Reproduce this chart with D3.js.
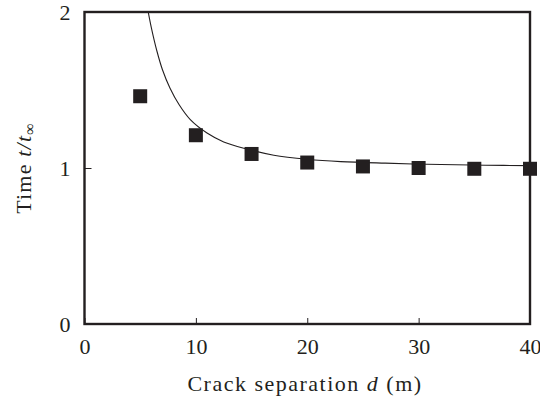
<!DOCTYPE html>
<html>
<head>
<meta charset="utf-8">
<script src="https://cdn.jsdelivr.net/npm/d3@7"></script>
<style>
  body { margin: 0; background: #fff; }
  text { font-family: "Liberation Serif", "DejaVu Serif", serif; fill: #231f20; }
</style>
</head>
<body>
<svg id="chart" width="540" height="403"></svg>
<script>
// measured points (crack separation d, normalised time)
var sepD = [5, 10, 15, 20, 25, 30, 35, 40];
var timeRatio = [1.46, 1.21, 1.09, 1.035, 1.01, 1.0, 0.995, 0.995];

// model curve
var curveD = [5.67, 6.0, 6.5, 7.0, 7.67, 8.5, 9.5, 11, 12.5, 14.5, 17, 20, 23, 27, 32, 36, 40];
var curveT = [2.02, 1.90, 1.75, 1.63, 1.513, 1.405, 1.31, 1.224, 1.167, 1.123, 1.082, 1.056, 1.041, 1.031, 1.022, 1.018, 1.015];

var xTicks = [0, 10, 20, 30, 40];
var yTicks = [0, 1, 2];

var svg = d3.select("#chart");
var margin = {top: 12, right: 10, bottom: 79, left: 84.5},
    width = 540 - margin.left - margin.right,
    height = 403 - margin.top - margin.bottom;

var ink = "#231f20";

var x = d3.scaleLinear().domain([0, 40]).range([margin.left, margin.left + width]);
var y = d3.scaleLinear().domain([0, 2]).range([margin.top + height, margin.top]);

// clip for the curve
svg.append("clipPath").attr("id", "clip")
  .append("rect")
    .attr("x", margin.left).attr("y", margin.top)
    .attr("width", width).attr("height", height);

// curve
var line = d3.line()
  .x(function (d, i) { return x(curveD[i]); })
  .y(function (d, i) { return y(curveT[i]); })
  .curve(d3.curveCatmullRom);

svg.append("path")
  .datum(curveD)
  .attr("clip-path", "url(#clip)")
  .attr("d", line)
  .attr("fill", "none")
  .attr("stroke", ink)
  .attr("stroke-width", 1.1);

// markers
var sq = 14;
svg.selectAll(".pt")
  .data(sepD)
  .enter()
  .append("rect")
    .attr("class", "pt")
    .attr("x", function (d) { return x(d) - sq / 2; })
    .attr("y", function (d, i) { return y(timeRatio[i]) - sq / 2; })
    .attr("width", sq)
    .attr("height", sq)
    .attr("fill", ink);

// axes (ticks inward)
var xAxis = svg.append("g")
  .attr("transform", "translate(0," + (margin.top + height) + ")")
  .call(d3.axisBottom(x).tickValues(xTicks).tickFormat(d3.format("d")).tickSize(-6).tickPadding(14));
var yAxis = svg.append("g")
  .attr("transform", "translate(" + margin.left + ",0)")
  .call(d3.axisLeft(y).tickValues(yTicks).tickFormat(d3.format("d")).tickSize(-7).tickPadding(14));

[xAxis, yAxis].forEach(function (g) {
  g.select(".domain").remove();
  g.selectAll(".tick line").attr("stroke", ink).attr("stroke-width", 1);
  g.selectAll(".tick text")
    .style("font-family", "'Liberation Serif', serif")
    .style("font-size", "22px")
    .attr("fill", ink);
});
xAxis.selectAll(".tick text").attr("dy", "0.71em");
yAxis.selectAll(".tick text").attr("dy", "0.33em");

// frame
svg.append("rect")
  .attr("x", margin.left).attr("y", margin.top)
  .attr("width", width).attr("height", height)
  .attr("fill", "none")
  .attr("stroke", ink)
  .attr("stroke-width", 2.4);

// x label
var xl = svg.append("text")
  .attr("x", 305)
  .attr("y", 391)
  .attr("text-anchor", "middle")
  .style("font-size", "22px")
  .style("letter-spacing", "1.5px");
xl.append("tspan").text("Crack separation ");
xl.append("tspan").style("font-style", "italic").text("d");
xl.append("tspan").text(" (m)");

// y label
var yl = svg.append("text")
  .attr("transform", "translate(31," + (margin.top + height / 2) + ")rotate(-90)")
  .attr("text-anchor", "middle")
  .style("font-size", "22px")
  .style("letter-spacing", "1.2px");
yl.append("tspan").text("Time ");
yl.append("tspan").style("font-style", "italic").text("t/t");
yl.append("tspan").style("font-size", "16px").attr("dy", 4).text("∞");
</script>
</body>
</html>
